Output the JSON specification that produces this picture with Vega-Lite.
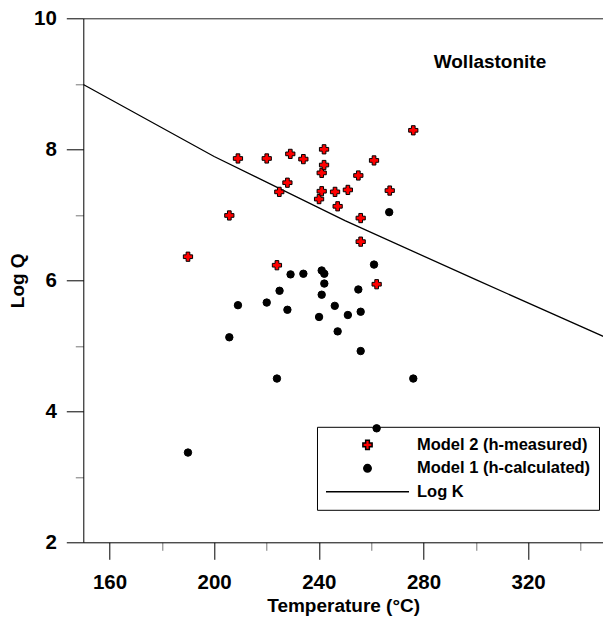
{
  "$schema": "https://vega.github.io/schema/vega-lite/v6.json",
  "width": 519.7,
  "height": 524,
  "autosize": {"type": "none"},
  "padding": {"left": 83.3, "top": 18.3, "right": 0, "bottom": 75},
  "background": "white",
  "config": {
    "view": {"stroke": "transparent", "strokeWidth": 0},
    "font": "Liberation Sans",
    "axis": {
      "grid": false,
      "domainColor": "black",
      "domainWidth": 1,
      "labelFont": "Liberation Sans",
      "labelFontSize": 20.5,
      "labelFontWeight": "bold",
      "labelColor": "black",
      "titleFont": "Liberation Sans",
      "titleFontSize": 19,
      "titleFontWeight": "bold",
      "titleColor": "black",
      "labelOverlap": false,
      "tickSize": 17,
      "tickWidth": 1
    },
    "legend": {
      "title": null,
      "orient": "none",
      "legendX": 233.7,
      "legendY": 408.5,
      "padding": 8,
      "strokeColor": "black",
      "labelFont": "Liberation Sans",
      "labelFontSize": 16.5,
      "labelFontWeight": "bold",
      "labelColor": "black",
      "labelOffset": 7,
      "labelLimit": 400,
      "clipHeight": 20,
      "rowPadding": 3.5,
      "symbolOpacity": 1
    }
  },
  "resolve": {"axis": {"x": "independent"}},
  "datasets": {
    "logk": [
      {"T": 150, "Q": 8.99},
      {"T": 200, "Q": 7.89},
      {"T": 250, "Q": 6.91},
      {"T": 300, "Q": 6.01},
      {"T": 350, "Q": 5.12}
    ],
    "model1": [
      {"series": "Model 1 (h-calculated)", "T": 190.0, "Q": 3.37},
      {"series": "Model 1 (h-calculated)", "T": 205.8, "Q": 5.13},
      {"series": "Model 1 (h-calculated)", "T": 209.1, "Q": 5.62},
      {"series": "Model 1 (h-calculated)", "T": 220.1, "Q": 5.66},
      {"series": "Model 1 (h-calculated)", "T": 224.0, "Q": 4.50},
      {"series": "Model 1 (h-calculated)", "T": 225.0, "Q": 5.84},
      {"series": "Model 1 (h-calculated)", "T": 228.0, "Q": 5.55},
      {"series": "Model 1 (h-calculated)", "T": 229.2, "Q": 6.09},
      {"series": "Model 1 (h-calculated)", "T": 234.1, "Q": 6.10},
      {"series": "Model 1 (h-calculated)", "T": 240.1, "Q": 5.44},
      {"series": "Model 1 (h-calculated)", "T": 241.1, "Q": 6.15},
      {"series": "Model 1 (h-calculated)", "T": 242.1, "Q": 6.10},
      {"series": "Model 1 (h-calculated)", "T": 242.1, "Q": 5.95},
      {"series": "Model 1 (h-calculated)", "T": 241.1, "Q": 5.78},
      {"series": "Model 1 (h-calculated)", "T": 246.1, "Q": 5.61},
      {"series": "Model 1 (h-calculated)", "T": 247.2, "Q": 5.22},
      {"series": "Model 1 (h-calculated)", "T": 251.1, "Q": 5.47},
      {"series": "Model 1 (h-calculated)", "T": 255.1, "Q": 5.86},
      {"series": "Model 1 (h-calculated)", "T": 256.0, "Q": 5.52},
      {"series": "Model 1 (h-calculated)", "T": 256.0, "Q": 4.92},
      {"series": "Model 1 (h-calculated)", "T": 261.1, "Q": 6.24},
      {"series": "Model 1 (h-calculated)", "T": 262.1, "Q": 3.74},
      {"series": "Model 1 (h-calculated)", "T": 266.9, "Q": 7.04},
      {"series": "Model 1 (h-calculated)", "T": 276.1, "Q": 4.50}
    ],
    "model2": [
      {"series": "Model 2 (h-measured)", "T": 190.0, "Q": 6.36},
      {"series": "Model 2 (h-measured)", "T": 205.8, "Q": 6.99},
      {"series": "Model 2 (h-measured)", "T": 209.1, "Q": 7.86},
      {"series": "Model 2 (h-measured)", "T": 220.1, "Q": 7.86},
      {"series": "Model 2 (h-measured)", "T": 224.0, "Q": 6.23},
      {"series": "Model 2 (h-measured)", "T": 224.9, "Q": 7.35},
      {"series": "Model 2 (h-measured)", "T": 228.0, "Q": 7.49},
      {"series": "Model 2 (h-measured)", "T": 229.1, "Q": 7.93},
      {"series": "Model 2 (h-measured)", "T": 234.1, "Q": 7.85},
      {"series": "Model 2 (h-measured)", "T": 240.1, "Q": 7.24},
      {"series": "Model 2 (h-measured)", "T": 241.1, "Q": 7.36},
      {"series": "Model 2 (h-measured)", "T": 241.1, "Q": 7.64},
      {"series": "Model 2 (h-measured)", "T": 242.0, "Q": 7.76},
      {"series": "Model 2 (h-measured)", "T": 242.0, "Q": 8.00},
      {"series": "Model 2 (h-measured)", "T": 246.2, "Q": 7.35},
      {"series": "Model 2 (h-measured)", "T": 247.2, "Q": 7.13},
      {"series": "Model 2 (h-measured)", "T": 251.1, "Q": 7.38},
      {"series": "Model 2 (h-measured)", "T": 255.1, "Q": 7.60},
      {"series": "Model 2 (h-measured)", "T": 256.0, "Q": 6.95},
      {"series": "Model 2 (h-measured)", "T": 256.0, "Q": 6.59},
      {"series": "Model 2 (h-measured)", "T": 261.1, "Q": 7.83},
      {"series": "Model 2 (h-measured)", "T": 262.1, "Q": 5.94},
      {"series": "Model 2 (h-measured)", "T": 267.1, "Q": 7.37},
      {"series": "Model 2 (h-measured)", "T": 276.1, "Q": 8.29}
    ],
    "ann": [
      {"label": "Wollastonite", "T": 305.4, "Q": 9.33}
    ]
  },
  "encoding": {
    "y": {
      "field": "Q",
      "type": "quantitative",
      "scale": {"domain": [2, 10], "nice": false, "zero": false},
      "axis": {
        "orient": "left",
        "title": "Log Q",
        "values": [2, 3, 4, 5, 6, 7, 8, 9, 10],
        "labelExpr": "datum.value % 2 === 0 ? datum.label : ''",
        "tickDash": {"condition": {"test": "datum.value % 2 === 0", "value": []}, "value": [8, 40]},
        "tickColor": {"condition": {"test": "datum.value % 2 === 0", "value": "black"}, "value": "#777"},
        "labelPadding": 10,
        "titlePadding": 6
      }
    }
  },
  "layer": [
    {
      "data": {"name": "logk"},
      "mark": {"type": "line", "color": "black", "strokeWidth": 1.3, "clip": true},
      "encoding": {
        "x": {
          "field": "T",
          "type": "quantitative",
          "scale": {"domain": [150, 348.6], "nice": false, "zero": false},
          "axis": {
            "orient": "bottom",
            "title": "Temperature (°C)",
            "values": [160, 180, 200, 220, 240, 260, 280, 300, 320, 340],
            "labelExpr": "datum.value % 40 === 0 ? datum.label : ''",
            "tickDash": {"condition": {"test": "datum.value % 40 === 0", "value": []}, "value": [8, 40]},
            "tickColor": {"condition": {"test": "datum.value % 40 === 0", "value": "black"}, "value": "#777"},
            "labelPadding": 13,
            "titlePadding": 4
          }
        }
      }
    },
    {
      "data": {"name": "model1"},
      "mark": {"type": "point", "filled": true, "strokeWidth": 1, "opacity": 1},
      "encoding": {
        "x": {"field": "T", "type": "quantitative", "axis": null},
        "shape": {
          "field": "series", "type": "nominal",
          "scale": {"domain": ["Model 2 (h-measured)", "Model 1 (h-calculated)", "Log K"], "range": ["cross", "circle", "stroke"]},
          "legend": {"labelExpr": "datum.label + '    '"}
        },
        "fill": {
          "field": "series", "type": "nominal",
          "scale": {"domain": ["Model 2 (h-measured)", "Model 1 (h-calculated)", "Log K"], "range": ["red", "black", "transparent"]},
          "legend": {"labelExpr": "datum.label + '    '"}
        },
        "stroke": {
          "field": "series", "type": "nominal",
          "scale": {"domain": ["Model 2 (h-measured)", "Model 1 (h-calculated)", "Log K"], "range": ["black", "black", "black"]},
          "legend": {"labelExpr": "datum.label + '    '"}
        },
        "size": {
          "field": "series", "type": "nominal",
          "scale": {"type": "ordinal", "domain": ["Model 2 (h-measured)", "Model 1 (h-calculated)", "Log K"], "range": [85, 55, 6889]},
          "legend": {"labelExpr": "datum.label + '    '"}
        }
      }
    },
    {
      "data": {"name": "model2"},
      "mark": {"type": "point", "filled": true, "strokeWidth": 1, "opacity": 1},
      "encoding": {
        "x": {"field": "T", "type": "quantitative", "axis": null},
        "shape": {
          "field": "series", "type": "nominal",
          "scale": {"domain": ["Model 2 (h-measured)", "Model 1 (h-calculated)", "Log K"], "range": ["cross", "circle", "stroke"]},
          "legend": {"labelExpr": "datum.label + '    '"}
        },
        "fill": {
          "field": "series", "type": "nominal",
          "scale": {"domain": ["Model 2 (h-measured)", "Model 1 (h-calculated)", "Log K"], "range": ["red", "black", "transparent"]},
          "legend": {"labelExpr": "datum.label + '    '"}
        },
        "stroke": {
          "field": "series", "type": "nominal",
          "scale": {"domain": ["Model 2 (h-measured)", "Model 1 (h-calculated)", "Log K"], "range": ["black", "black", "black"]},
          "legend": {"labelExpr": "datum.label + '    '"}
        },
        "size": {
          "field": "series", "type": "nominal",
          "scale": {"type": "ordinal", "domain": ["Model 2 (h-measured)", "Model 1 (h-calculated)", "Log K"], "range": [85, 55, 6889]},
          "legend": {"labelExpr": "datum.label + '    '"}
        }
      }
    },
    {
      "data": {"name": "ann"},
      "mark": {"type": "text", "font": "Liberation Sans", "fontSize": 19, "fontWeight": "bold", "color": "black", "align": "center", "baseline": "middle"},
      "encoding": {
        "x": {
          "field": "T", "type": "quantitative",
          "axis": {"orient": "top", "title": null, "labels": false, "ticks": false, "domain": true, "domainColor": "#222"}
        },
        "text": {"field": "label", "type": "nominal"}
      }
    }
  ]
}
